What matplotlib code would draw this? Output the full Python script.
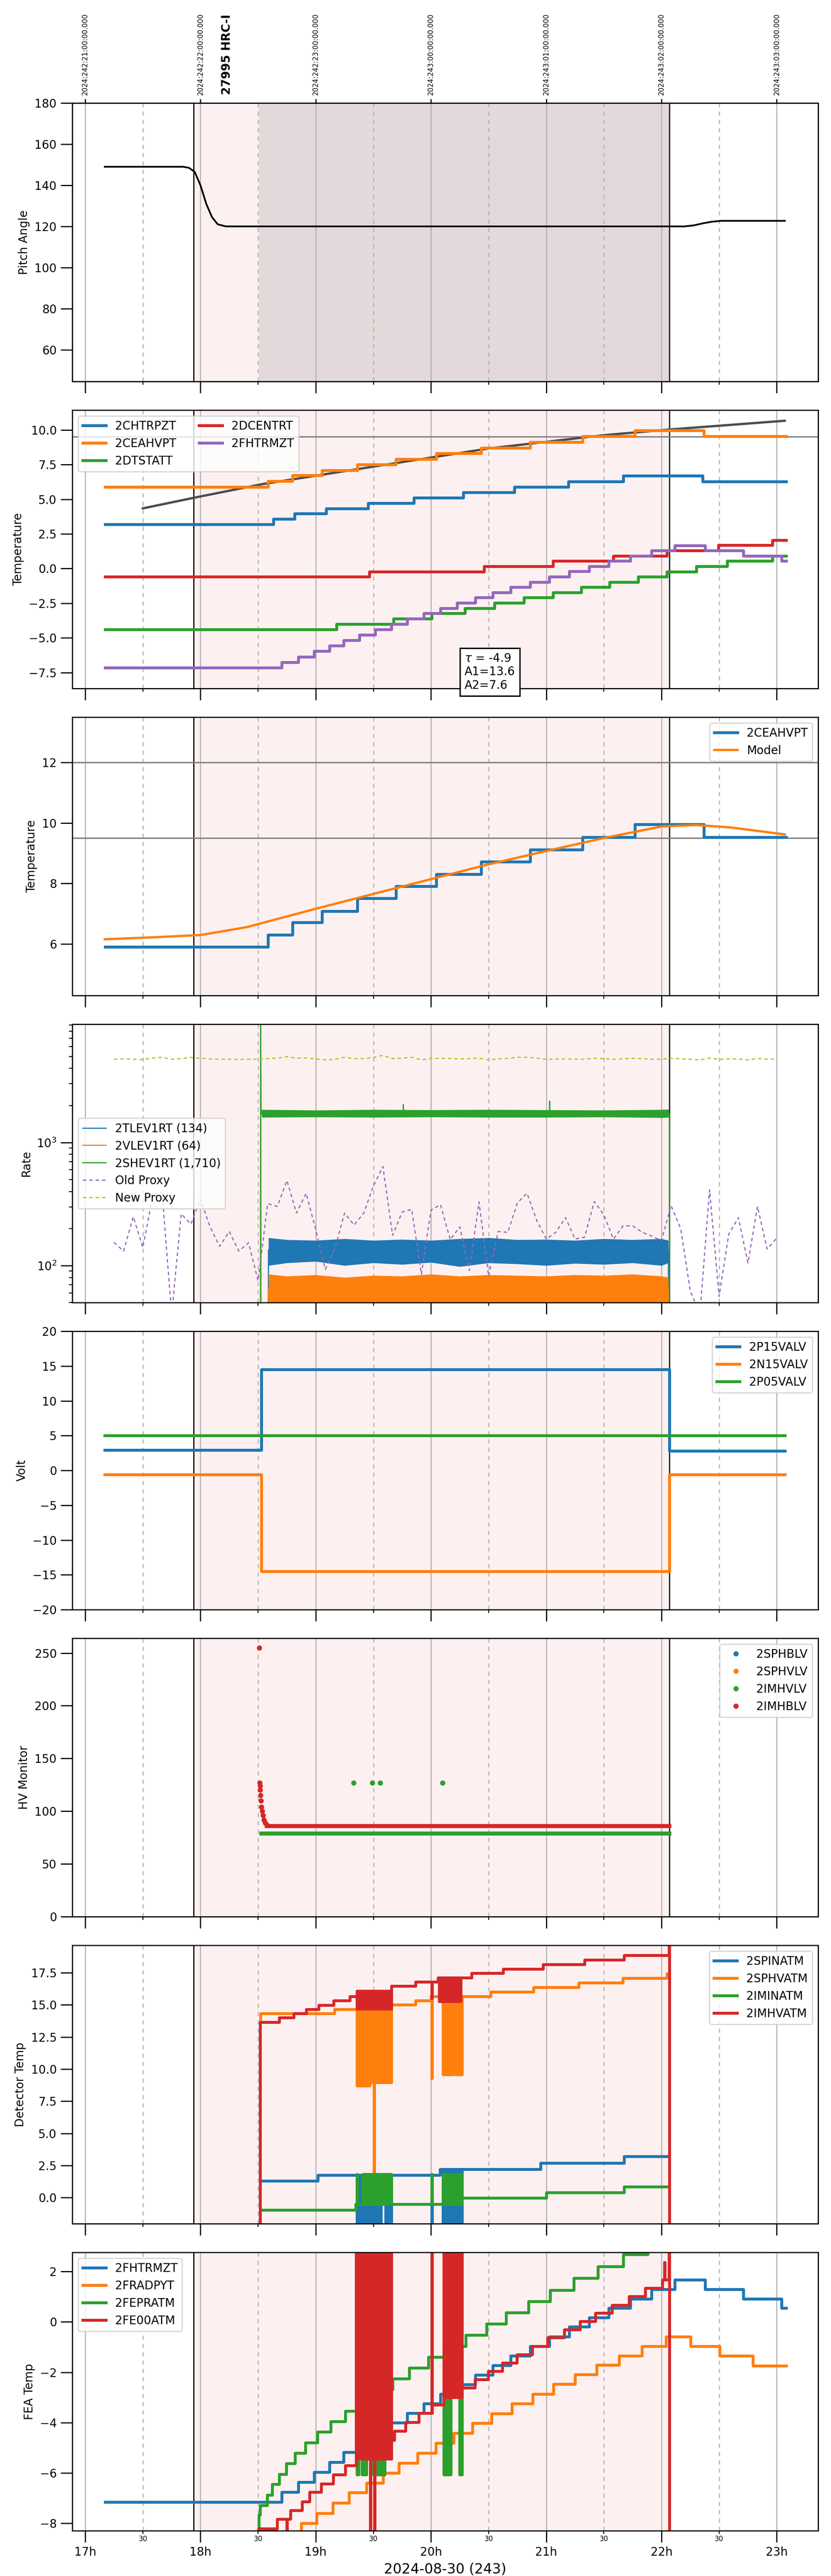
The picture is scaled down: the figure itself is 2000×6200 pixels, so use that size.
import matplotlib
matplotlib.use("Agg")
import matplotlib.pyplot as plt
from matplotlib.ticker import FixedLocator, FixedFormatter
from matplotlib.transforms import blended_transform_factory

# ---------------- data ----------------
hour_ticks = [17, 18, 19, 20, 21, 22, 23]
hour_labels = ["17h", "18h", "19h", "20h", "21h", "22h", "23h"]
half_ticks = [17.5, 18.5, 19.5, 20.5, 21.5, 22.5]
half_labels = ["30", "30", "30", "30", "30", "30"]
utc_labels = ["2024:242:21:00:00.000", "2024:242:22:00:00.000", "2024:242:23:00:00.000",
              "2024:243:00:00:00.000", "2024:243:01:00:00.000", "2024:243:02:00:00.000",
              "2024:243:03:00:00.000"]
obs_label = "27995 HRC-I"
obs_label_t = 18.229
obs_start, obs_end = 17.939, 22.068
hv_on_start = 18.506
x_range = (16.888, 23.359)

# panel 1: pitch
pitch_t = [17.17, 17.85, 17.90, 17.95, 18.00, 18.05, 18.10, 18.15, 18.22, 22.20, 22.28, 22.36, 22.44, 22.52, 23.07]
pitch_v = [149.0, 149.0, 148.5, 146.5, 140.0, 131.0, 124.5, 121.0, 120.0, 120.0, 120.5, 121.5, 122.3, 122.7, 122.7]

# panel 2: temperatures
chtrpzt_t = [17.174, 18.634, 18.816, 19.089, 19.453, 19.851, 20.281, 20.724, 21.191, 21.667, 22.358, 23.082]
chtrpzt_v = [3.20, 3.57, 3.96, 4.34, 4.72, 5.11, 5.50, 5.89, 6.29, 6.68, 6.29, 6.29]
ceahvpt_t = [17.174, 18.585, 18.800, 19.056, 19.362, 19.698, 20.045, 20.434, 20.860, 21.315, 21.770, 22.366, 23.082]
ceahvpt_v = [5.90, 6.30, 6.71, 7.08, 7.50, 7.90, 8.31, 8.71, 9.12, 9.53, 9.96, 9.53, 9.53]
dtstatt_t = [17.174, 19.180, 19.673, 20.008, 20.293, 20.550, 20.806, 21.059, 21.303, 21.551, 21.799,
             22.048, 22.304, 22.569, 22.962, 23.082]
dtstatt_v = [-4.39, -4.01, -3.63, -3.24, -2.87, -2.49, -2.10, -1.73, -1.34, -0.97, -0.59,
             -0.22, 0.16, 0.55, 0.92, 0.92]
dcentrt_t = [17.174, 19.466, 20.459, 21.059, 21.580, 22.048, 22.494, 22.962, 23.082]
dcentrt_v = [-0.58, -0.22, 0.16, 0.55, 0.92, 1.30, 1.68, 2.05, 2.05]
fhtrmzt_t = [17.174, 18.705, 18.849, 18.986, 19.118, 19.242, 19.379, 19.515, 19.656, 19.793, 19.937,
             20.082, 20.227, 20.384, 20.537, 20.691, 20.860, 21.026, 21.199, 21.373, 21.543, 21.729,
             21.915, 22.114, 22.379, 22.710, 23.041, 23.082]
fhtrmzt_v = [-7.15, -6.76, -6.36, -5.96, -5.57, -5.18, -4.78, -4.39, -4.01, -3.62, -3.24,
             -2.87, -2.48, -2.10, -1.73, -1.34, -0.97, -0.58, -0.20, 0.17, 0.55, 0.92,
             1.30, 1.67, 1.30, 0.92, 0.55, 0.55]
fit_t = [17.50, 17.94, 18.53, 19.50, 20.50, 21.50, 22.07, 23.07]
fit_v = [4.34, 5.10, 6.08, 7.35, 8.66, 9.62, 10.03, 10.66]
fit_text = "$\\tau$ = -4.9\nA1=13.6\nA2=7.6"
temp_limit = 9.5

# panel 3: model
model_t = [17.17, 17.5, 18.0, 18.4, 19.0, 19.5, 20.0, 20.5, 21.0, 21.5, 22.0, 22.3, 22.6, 23.07]
model_v = [6.15, 6.20, 6.29, 6.55, 7.16, 7.65, 8.14, 8.63, 9.07, 9.50, 9.88, 9.93, 9.85, 9.62]
model_limits = [12.0, 9.5]

# panel 4: rates
tlev_t = [17.17, 18.588, 18.590, 22.060, 22.062, 23.07]
tlev_v = [1, 1, 134, 134, 1, 1]
vlev_t = [17.17, 18.523, 18.524, 18.527, 18.590, 22.060, 22.062, 23.07]
vlev_v = [1, 1, 1570, 1, 64, 64, 1, 1]
shev_t = [17.17, 18.520, 18.522, 18.526, 18.530, 19.758, 19.760, 19.762, 21.028, 21.030, 21.032, 22.068, 22.070, 23.07]
shev_v = [1, 1, 12000, 1700, 1720, 1720, 2035, 1720, 1720, 2170, 1720, 1720, 1, 1]
band_t = [18.59, 18.75, 19.0, 19.25, 19.5, 19.75, 20.0, 20.25, 20.5, 20.75, 21.0, 21.25, 21.5, 21.75, 22.0, 22.06]
tlev_hi = [168, 162, 160, 165, 160, 163, 160, 165, 168, 162, 163, 160, 165, 162, 165, 160]
tlev_lo = [100, 105, 108, 100, 105, 102, 106, 98, 105, 103, 100, 104, 102, 105, 100, 105]
vlev_hi = [85, 82, 84, 80, 83, 82, 85, 82, 84, 83, 82, 84, 83, 85, 82, 80]
vlev_lo = [40, 40, 40, 40, 40, 40, 40, 40, 40, 40, 40, 40, 40, 40, 40, 40]
shev_band_t = [18.53, 19.0, 19.5, 20.0, 20.5, 21.0, 21.5, 22.0, 22.066]
shev_hi = [1850, 1830, 1850, 1840, 1850, 1840, 1830, 1850, 1860]
shev_lo = [1600, 1610, 1600, 1610, 1600, 1600, 1610, 1590, 1600]
proxy_t = [17.250, 17.333, 17.417, 17.500, 17.583, 17.667, 17.750, 17.833, 17.917, 18.000,
           18.083, 18.167, 18.250, 18.333, 18.417, 18.500, 18.583, 18.667, 18.750, 18.833,
           18.917, 19.000, 19.083, 19.167, 19.250, 19.333, 19.417, 19.500, 19.583, 19.667,
           19.750, 19.833, 19.917, 20.000, 20.083, 20.167, 20.250, 20.333, 20.417, 20.500,
           20.583, 20.667, 20.750, 20.833, 20.917, 21.000, 21.083, 21.167, 21.250, 21.333,
           21.417, 21.500, 21.583, 21.667, 21.750, 21.833, 21.917, 22.000, 22.083, 22.167,
           22.250, 22.333, 22.417, 22.500, 22.583, 22.667, 22.750, 22.833, 22.917, 23.000]
old_proxy = [154, 131, 249, 140, 353, 394, 40, 263, 217, 347,
             206, 143, 189, 131, 153, 75, 318, 302, 491, 267,
             387, 196, 93, 138, 267, 213, 267, 442, 637, 176,
             272, 286, 85, 282, 312, 162, 206, 91, 329, 82,
             189, 186, 323, 387, 233, 164, 186, 245, 164, 170,
             331, 258, 164, 210, 210, 186, 173, 159, 307, 199,
             62, 40, 412, 56, 179, 245, 105, 302, 136, 167]
new_proxy = [4745, 4775, 4745, 4715, 4850, 4920, 4745, 4805, 4900, 4835,
             4775, 4745, 4745, 4730, 4745, 4745, 4805, 4850, 4977, 4850,
             4850, 4775, 4690, 4745, 4925, 4805, 4805, 4900, 5115, 4805,
             4850, 4920, 4690, 4820, 4820, 4820, 4775, 4805, 4850, 4690,
             4775, 4820, 4925, 4920, 4850, 4745, 4760, 4775, 4760, 4745,
             4835, 4805, 4745, 4790, 4835, 4790, 4745, 4745, 4835, 4790,
             4745, 4690, 4850, 4745, 4775, 4775, 4690, 4805, 4745, 4775]

# panel 5: voltages
volt_t = [17.17, 18.53, 22.07, 23.07]
p15_v = [2.9, 14.5, 2.8, 2.8]
n15_v = [-0.6, -14.5, -0.6, -0.6]
p05_t = [17.17, 23.07]
p05_v = [5.0, 5.0]

# panel 6: HV monitor
sphblv_t, sphblv_v = [], []
sphvlv_t, sphvlv_v = [], []
imhvlv_t = [19.33, 19.49, 19.56, 20.10]
imhvlv_v = [127, 127, 127, 127]
imhvlv_run_t = [18.53, 22.07]
imhvlv_run_v = [79, 79]
imhblv_t = [18.510, 18.514, 18.516, 18.519, 18.522, 18.526, 18.530, 18.535, 18.542, 18.550, 18.560, 18.575]
imhblv_v = [255, 127, 124, 120, 115, 110, 104, 100, 96, 92, 89, 87]
imhblv_run_t = [18.575, 22.07]
imhblv_run_v = [86, 86]

# panel 7: detector temps
spinatm_t = [18.53, 19.019, 20.08, 20.951, 21.675, 22.06]
spinatm_v = [1.30, 1.76, 2.22, 2.71, 3.20, 3.20]
spinatm_glitch = [(19.358, 19.383, -3.0, 1.76), (19.408, 19.565, -3.0, 1.76), (19.606, 19.656, -3.0, 1.76),
                  (20.006, 20.010, -3.0, 1.76), (20.103, 20.186, -3.0, 2.22), (20.207, 20.268, -3.0, 2.22)]
sphvatm_t = [18.516, 18.52, 19.164, 19.656, 19.867, 20.0, 20.517, 20.889, 21.282, 21.663, 22.048, 22.06]
sphvatm_v = [13.6, 14.33, 14.66, 15.00, 15.34, 15.67, 16.02, 16.36, 16.71, 17.07, 17.43, 17.43]
sphvatm_glitch = [(19.358, 19.47, 8.71, 14.66), (19.47, 19.656, 8.98, 15.0), (19.505, 19.509, 1.7, 9.0),
                  (20.006, 20.010, 9.29, 15.34), (20.103, 20.186, 9.58, 15.67), (20.207, 20.268, 9.58, 15.67)]
iminatm_t = [18.53, 19.346, 20.268, 21.0, 21.675, 22.06]
iminatm_v = [-0.94, -0.49, -0.03, 0.39, 0.84, 0.84]
iminatm_glitch = [(19.358, 19.362, -0.49, 1.84), (19.408, 19.656, -0.49, 1.84), (20.006, 20.010, -0.49, 1.84),
                  (20.103, 20.186, -0.49, 1.84), (20.207, 20.268, -0.49, 1.84)]
imhvatm_t = [17.17, 18.518, 18.684, 18.808, 18.916, 19.027, 19.156, 19.296, 19.656, 19.867, 20.062,
             20.351, 20.628, 20.972, 21.332, 21.675, 22.066, 22.068]
imhvatm_v = [-10.0, 13.65, 14.01, 14.33, 14.66, 14.98, 15.33, 15.67, 16.45, 16.78, 17.11,
             17.46, 17.79, 18.15, 18.49, 18.84, 30.0, -30.0]
imhvatm_glitch = [(19.358, 19.656, 14.69, 16.06), (20.006, 20.010, 15.5, 16.78), (20.07, 20.26, 15.27, 17.11)]

# panel 8: FEA temps (2FHTRMZT reuses fhtrmzt_t / fhtrmzt_v)
fradpyt_t = [17.17, 18.874, 19.007, 19.147, 19.288, 19.441, 19.586, 19.722, 19.884, 20.041, 20.198, 20.359,
             20.525, 20.703, 20.881, 21.063, 21.249, 21.439, 21.634, 21.832, 22.039, 22.254, 22.503, 22.792, 23.082]
fradpyt_v = [-8.8, -8.00, -7.59, -7.19, -6.78, -6.39, -5.99, -5.60, -5.20, -4.81, -4.42, -4.02,
             -3.64, -3.24, -2.86, -2.47, -2.09, -1.71, -1.34, -0.96, -0.59, -0.96, -1.34, -1.74, -1.74]
fepratm_t = [17.17, 18.506, 18.518, 18.580, 18.622, 18.684, 18.746, 18.820, 18.911, 19.015, 19.131, 19.255,
             19.358, 19.510, 19.669, 19.813, 19.979, 20.144, 20.302, 20.484, 20.653, 20.848, 21.034,
             21.241, 21.448, 21.667, 21.882, 22.068]
fepratm_v = [-9.0, -7.67, -7.28, -6.87, -6.45, -6.04, -5.62, -5.20, -4.79, -4.37, -3.95, -3.54,
             -3.12, -2.69, -2.26, -1.83, -1.40, -0.97, -0.53, -0.08, 0.37, 0.81, 1.26,
             1.73, 2.20, 2.68, 3.15, 3.15]
fepratm_glitch = [(19.358, 19.372, -6.06, -3.0), (19.40, 19.44, -6.06, -3.0), (19.50, 19.60, -6.06, -3.0),
                  (20.111, 20.173, -6.06, -1.0), (20.248, 20.268, -6.06, -1.0)]
fe00atm_t = [17.17, 18.502, 18.667, 18.779, 18.882, 18.945, 19.048, 19.151, 19.255, 19.350, 19.656, 19.681,
             19.780, 19.896, 20.008, 20.111, 20.268, 20.380, 20.496, 20.620, 20.744, 20.877, 21.013,
             21.158, 21.295, 21.427, 21.572, 21.717, 21.861, 22.006, 22.066, 22.068]
fe00atm_v = [-9.0, -8.20, -7.83, -7.48, -7.13, -6.76, -6.42, -6.06, -5.70, -5.44, -4.69, -4.33,
             -3.99, -3.63, -3.29, -3.00, -2.62, -2.29, -1.96, -1.63, -1.30, -0.97, -0.62,
             -0.30, 0.03, 0.36, 0.67, 1.01, 1.34, 1.67, 5.0, -12.0]
fe00atm_glitch = [(18.748, 18.752, -9.0, -7.83), (19.350, 19.656, -5.44, 3.5), (19.472, 19.476, -9.0, -5.44),
                  (19.509, 19.513, -9.0, -5.44), (20.006, 20.010, -3.63, 3.5), (20.111, 20.268, -3.0, 3.5),
                  (22.025, 22.029, 1.67, 2.37)]

# ---------------- style ----------------
BLUE, ORANGE, GREEN, RED, PURPLE, OLIVE = "#1f77b4", "#ff7f0e", "#2ca02c", "#d62728", "#9467bd", "#bcbd22"
PINK = "#fdf0f0"
DARK = "#e3d9da"
GRID = "#b0b0b0"
LW = 2.5

fig = plt.figure(figsize=(10, 31), dpi=200)
gs = fig.add_gridspec(8, 1, left=0.087, right=0.9845, top=0.96, bottom=0.01758, hspace=0.103)
axes = []
for i in range(8):
    ax = fig.add_subplot(gs[i], sharex=axes[0] if axes else None)
    axes.append(ax)


def style(ax):
    ax.axvspan(obs_start, obs_end, facecolor=PINK, edgecolor="none", zorder=0.5)
    ax.axvline(obs_start, color="black", lw=1.0, zorder=1.7)
    ax.axvline(obs_end, color="black", lw=1.0, zorder=1.7)
    ax.set_axisbelow("line")
    ax.grid(True, axis="x", which="major", color=GRID, lw=0.9, ls="-")
    ax.grid(True, axis="x", which="minor", color=GRID, lw=0.9, ls=(0, (4, 4)))
    ax.tick_params(which="major", length=10, width=1.0, labelsize=10)
    ax.tick_params(which="minor", length=3, width=0.8)
    for sp in ax.spines.values():
        sp.set_linewidth(1.0)


def glitches(ax, spec, color, z):
    for t0, t1, lo, hi in spec:
        ax.fill_between([t0, t1], [lo, lo], [hi, hi], facecolor=color, edgecolor=color,
                        lw=2.5, zorder=z)


for ax in axes:
    style(ax)

axes[0].set_xlim(*x_range)
axes[0].xaxis.set_major_locator(FixedLocator(hour_ticks))
axes[0].xaxis.set_minor_locator(FixedLocator(half_ticks))
axes[0].xaxis.set_major_formatter(FixedFormatter(hour_labels))
axes[0].xaxis.set_minor_formatter(FixedFormatter(half_labels))
for ax in axes[:-1]:
    ax.tick_params(axis="x", which="both", labelbottom=False)

# ---- panel 1
ax = axes[0]
ax.axvspan(hv_on_start, obs_end, facecolor=DARK, edgecolor="none", zorder=0.6)
ax.plot(pitch_t, pitch_v, color="black", lw=1.5, zorder=2)
ax.set_ylim(44.6, 180)
ax.set_yticks([60, 80, 100, 120, 140, 160, 180])
ax.set_ylabel("Pitch Angle", fontsize=10)
axt = ax.twiny()
axt.set_xlim(*x_range)
axt.set_xticks(hour_ticks)
axt.set_xticklabels(utc_labels, rotation=90, fontsize=6)
axt.tick_params(axis="x", length=3.5, width=1.0)
for sp in axt.spines.values():
    sp.set_linewidth(1.0)
ax.text(obs_label_t, 1.03, obs_label, transform=blended_transform_factory(ax.transData, ax.transAxes),
        rotation=90, fontsize=10, fontweight="bold", ha="center", va="bottom")

# ---- panel 2
ax = axes[1]
ax.axhline(temp_limit, color="#808080", lw=1.2, zorder=1.8)
ax.plot(fit_t, fit_v, color="#4d4d4d", lw=2.0, zorder=1.9)
ax.plot(chtrpzt_t, chtrpzt_v, color=BLUE, lw=LW, drawstyle="steps-post", label="2CHTRPZT")
ax.plot(ceahvpt_t, ceahvpt_v, color=ORANGE, lw=LW, drawstyle="steps-post", label="2CEAHVPT")
ax.plot(dtstatt_t, dtstatt_v, color=GREEN, lw=LW, drawstyle="steps-post", label="2DTSTATT")
ax.plot(dcentrt_t, dcentrt_v, color=RED, lw=LW, drawstyle="steps-post", label="2DCENTRT")
ax.plot(fhtrmzt_t, fhtrmzt_v, color=PURPLE, lw=LW, drawstyle="steps-post", label="2FHTRMZT")
ax.set_ylim(-8.65, 11.43)
ax.set_yticks([-7.5, -5.0, -2.5, 0.0, 2.5, 5.0, 7.5, 10.0])
ax.set_ylabel("Temperature", fontsize=10)
ax.legend(loc="upper left", ncol=2)
ax.text(0.526, -0.01, fit_text, transform=ax.transAxes, fontsize=10, ha="left", va="bottom",
        bbox=dict(boxstyle="square,pad=0.4", fc="white", ec="black", lw=1.2), zorder=10)

# ---- panel 3
ax = axes[2]
for lim in model_limits:
    ax.axhline(lim, color="#808080", lw=1.2, zorder=1.8)
ax.plot(ceahvpt_t, ceahvpt_v, color=BLUE, lw=LW, drawstyle="steps-post", label="2CEAHVPT")
ax.plot(model_t, model_v, color=ORANGE, lw=2.0, label="Model")
ax.set_ylim(4.29, 13.5)
ax.set_yticks([6, 8, 10, 12])
ax.set_ylabel("Temperature", fontsize=10)
ax.legend(loc="upper right")

# ---- panel 4
ax = axes[3]
ax.set_yscale("log")
ax.fill_between(band_t, tlev_lo, tlev_hi, color=BLUE, lw=0, zorder=2)
ax.plot(tlev_t, tlev_v, color=BLUE, lw=1.0, label="2TLEV1RT (134)", zorder=2)
ax.fill_between(band_t, vlev_lo, vlev_hi, color=ORANGE, lw=0, zorder=2.01)
ax.plot(vlev_t, vlev_v, color=ORANGE, lw=1.0, label="2VLEV1RT (64)", zorder=2.01)
ax.fill_between(shev_band_t, shev_lo, shev_hi, color=GREEN, lw=0, zorder=2.02)
ax.plot(shev_t, shev_v, color=GREEN, lw=1.0, label="2SHEV1RT (1,710)", zorder=2.02)
ax.plot(proxy_t, old_proxy, color=PURPLE, lw=1.0, ls=(0, (3, 2.5)), label="Old Proxy", zorder=2.03)
ax.plot(proxy_t, new_proxy, color=OLIVE, lw=1.0, ls=(0, (3, 2.5)), label="New Proxy", zorder=2.04)
ax.set_ylim(50, 9150)
ax.set_ylabel("Rate", fontsize=10)
ax.legend(loc="center left")

# ---- panel 5
ax = axes[4]
ax.plot(volt_t, p15_v, color=BLUE, lw=LW, drawstyle="steps-post", label="2P15VALV")
ax.plot(volt_t, n15_v, color=ORANGE, lw=LW, drawstyle="steps-post", label="2N15VALV")
ax.plot(p05_t, p05_v, color=GREEN, lw=LW, label="2P05VALV")
ax.set_ylim(-20, 20)
ax.set_yticks([-20, -15, -10, -5, 0, 5, 10, 15, 20])
ax.set_ylabel("Volt", fontsize=10)
ax.legend(loc="upper right")

# ---- panel 6
ax = axes[5]
ax.plot(sphblv_t, sphblv_v, "o", color=BLUE, ms=3.5, label="2SPHBLV")
ax.plot(sphvlv_t, sphvlv_v, "o", color=ORANGE, ms=3.5, label="2SPHVLV")
ax.plot(imhvlv_run_t, imhvlv_run_v, color=GREEN, lw=3.5)
ax.plot(imhvlv_t, imhvlv_v, "o", color=GREEN, ms=3.5, label="2IMHVLV")
ax.plot(imhblv_run_t, imhblv_run_v, color=RED, lw=3.5)
ax.plot(imhblv_t, imhblv_v, "o", color=RED, ms=3.5, label="2IMHBLV")
ax.set_ylim(0, 264)
ax.set_yticks([0, 50, 100, 150, 200, 250])
ax.set_ylabel("HV Monitor", fontsize=10)
ax.legend(loc="upper right")

# ---- panel 7
ax = axes[6]
ax.plot(spinatm_t, spinatm_v, color=BLUE, lw=LW, drawstyle="steps-post", label="2SPINATM", zorder=2.0)
glitches(ax, spinatm_glitch, BLUE, 2.0)
ax.plot(sphvatm_t, sphvatm_v, color=ORANGE, lw=LW, drawstyle="steps-post", label="2SPHVATM", zorder=2.1)
glitches(ax, sphvatm_glitch, ORANGE, 2.1)
ax.plot(iminatm_t, iminatm_v, color=GREEN, lw=LW, drawstyle="steps-post", label="2IMINATM", zorder=2.2)
glitches(ax, iminatm_glitch, GREEN, 2.2)
ax.plot(imhvatm_t, imhvatm_v, color=RED, lw=LW, drawstyle="steps-post", label="2IMHVATM", zorder=2.3)
glitches(ax, imhvatm_glitch, RED, 2.3)
ax.set_ylim(-2.02, 19.63)
ax.set_yticks([0.0, 2.5, 5.0, 7.5, 10.0, 12.5, 15.0, 17.5])
ax.set_ylabel("Detector Temp", fontsize=10)
ax.legend(loc="upper right")

# ---- panel 8
ax = axes[7]
ax.plot(fhtrmzt_t, fhtrmzt_v, color=BLUE, lw=LW, drawstyle="steps-post", label="2FHTRMZT", zorder=2.0)
ax.plot(fradpyt_t, fradpyt_v, color=ORANGE, lw=LW, drawstyle="steps-post", label="2FRADPYT", zorder=2.1)
ax.plot(fepratm_t, fepratm_v, color=GREEN, lw=LW, drawstyle="steps-post", label="2FEPRATM", zorder=2.2)
glitches(ax, fepratm_glitch, GREEN, 2.2)
ax.plot(fe00atm_t, fe00atm_v, color=RED, lw=LW, drawstyle="steps-post", label="2FE00ATM", zorder=2.3)
glitches(ax, fe00atm_glitch, RED, 2.3)
ax.set_ylim(-8.29, 2.76)
ax.set_yticks([-8, -6, -4, -2, 0, 2])
ax.set_ylabel("FEA Temp", fontsize=10)
ax.legend(loc="upper left")
ax.tick_params(axis="x", which="major", labelsize=10)
ax.tick_params(axis="x", which="minor", labelsize=6, pad=1)
ax.set_xlabel("2024-08-30 (243)", fontsize=12)

fig.savefig("out.png", dpi=200)
